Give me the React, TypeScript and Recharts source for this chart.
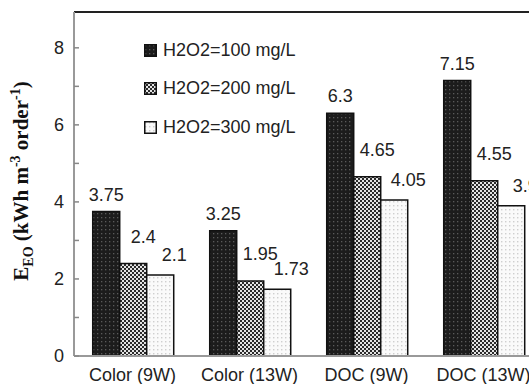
import { Bar, BarChart, LabelList, ReferenceLine, XAxis, YAxis } from "recharts";

const categories = ["Color (9W)", "Color (13W)", "DOC (9W)", "DOC (13W)"];
const h2o2_100 = [3.75, 3.25, 6.3, 7.15];
const h2o2_200 = [2.4, 1.95, 4.65, 4.55];
const h2o2_300 = [2.1, 1.73, 4.05, 3.9];
const yTicks = [0, 1, 2, 3, 4, 5, 6, 7, 8];

const seriesInfo = [
  { key: "s100", name: "H2O2=100 mg/L", fill: "url(#pDark)", dx: 0, dy: -11 },
  { key: "s200", name: "H2O2=200 mg/L", fill: "url(#pCheck)", dx: 10, dy: -21 },
  { key: "s300", name: "H2O2=300 mg/L", fill: "url(#pLight)", dx: 14, dy: -14 },
];

const data = categories.map((c, i) => ({
  name: c,
  s100: h2o2_100[i],
  s200: h2o2_200[i],
  s300: h2o2_300[i],
}));

const FONT = "'Liberation Sans', Arial, sans-serif";

function YTick({ x, y, payload }: any) {
  const v = payload.value;
  return (
    <g>
      <line x1={x} x2={x + 5} y1={y} y2={y} stroke="#888" strokeWidth={1.5} />
      {v % 2 === 0 && (
        <text x={x - 10} y={y} dy={6} textAnchor="end" fontSize={18} fontFamily={FONT} fill="#222">
          {v}
        </text>
      )}
    </g>
  );
}

function XTick({ x, y, payload }: any) {
  return (
    <text x={x} y={y} dy={25} textAnchor="middle" fontSize={18} fontFamily={FONT} fill="#222">
      {payload.value}
    </text>
  );
}

function makeLabel(dx: number, dy: number) {
  return (props: any) => {
    const { x, y, width, value } = props;
    return (
      <text x={x + width / 2 + dx} y={y + dy} textAnchor="middle" fontSize={18} fontFamily={FONT} fill="#222">
        {value}
      </text>
    );
  };
}

function YLabel() {
  return (
    <text
      transform="translate(28, 181) rotate(-90)"
      textAnchor="middle"
      fontFamily="'Liberation Serif', 'Times New Roman', serif"
      fontWeight="bold"
      fontSize={21}
      fill="#111"
    >
      E
      <tspan fontSize={14} dy={5}>EO</tspan>
      <tspan dy={-5}> (kWh m</tspan>
      <tspan fontSize={14} dy={-8}>-3</tspan>
      <tspan dy={8}> order</tspan>
      <tspan fontSize={14} dy={-8}>-1</tspan>
      <tspan dy={8}>)</tspan>
    </text>
  );
}

function LegendBox() {
  return (
    <div style={{ position: "absolute", top: 31, left: 144, fontFamily: FONT, fontSize: 18, color: "#222" }}>
      {seriesInfo.map((s) => (
        <div key={s.key} style={{ display: "flex", alignItems: "center", height: 38.5 }}>
          <svg width={13} height={13} style={{ marginRight: 6 }}>
            <rect x={0.75} y={0.75} width={11.5} height={11.5} fill={s.fill} stroke="#111" strokeWidth={1.5} />
          </svg>
          <span>{s.name}</span>
        </div>
      ))}
    </div>
  );
}

export default function App() {
  return (
    <div style={{ position: "absolute", left: 0, top: 0, width: 529, height: 384, overflow: "hidden", background: "#fff" }}>
      <BarChart
        width={560}
        height={384}
        data={data}
        margin={{ top: 12, right: 18, bottom: 0, left: 0 }}
        barCategoryGap="16%"
        barGap={0}
      >
        <defs>
          <pattern id="pDark" width={4} height={4} patternUnits="userSpaceOnUse">
            <rect width={4} height={4} fill="#1c1c1c" />
            <rect x={1} y={1} width={1.3} height={1.3} fill="#5a5a5a" />
          </pattern>
          <pattern id="pCheck" width={4} height={4} patternUnits="userSpaceOnUse">
            <rect width={4} height={4} fill="#e4e4e4" />
            <rect x={0} y={0} width={2} height={2} fill="#2a2a2a" />
            <rect x={2} y={2} width={2} height={2} fill="#2a2a2a" />
          </pattern>
          <pattern id="pLight" width={4} height={4} patternUnits="userSpaceOnUse">
            <rect width={4} height={4} fill="#fafafa" />
            <rect x={1} y={1} width={1.4} height={1.4} fill="#cfcfcf" />
          </pattern>
        </defs>
        <XAxis
          dataKey="name"
          tick={<XTick />}
          tickLine={false}
          tickSize={0}
          tickMargin={0}
          height={28}
          axisLine={{ stroke: "#999", strokeWidth: 2 }}
        />
        <YAxis
          domain={[0, 8.93]}
          ticks={yTicks}
          tick={<YTick />}
          tickLine={false}
          tickSize={0}
          tickMargin={0}
          width={74}
          axisLine={{ stroke: "#999", strokeWidth: 2 }}
          label={<YLabel />}
        />
        <ReferenceLine y={8.93} stroke="#222" strokeWidth={2} />
        {seriesInfo.map((s) => (
          <Bar key={s.key} dataKey={s.key} name={s.name} fill={s.fill} stroke="#111" strokeWidth={1.5} isAnimationActive={false}>
            <LabelList dataKey={s.key} content={makeLabel(s.dx, s.dy)} />
          </Bar>
        ))}
      </BarChart>
      <LegendBox />
    </div>
  );
}
